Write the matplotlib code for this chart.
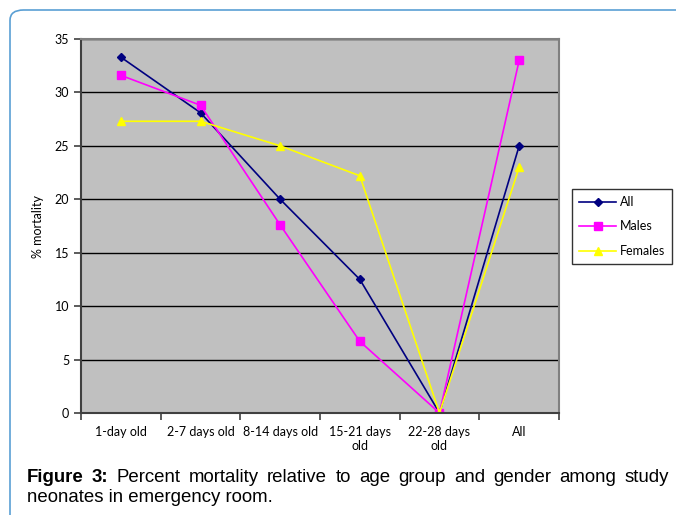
import matplotlib
matplotlib.use("Agg")
import matplotlib.pyplot as plt
from matplotlib.patches import FancyBboxPatch

categories = ["1-day old", "2-7 days old", "8-14 days old", "15-21 days\nold", "22-28 days\nold", "All"]
all_vals = [33.3, 28.1, 20.0, 12.5, 0.0, 25.0]
males = [31.6, 28.8, 17.6, 6.7, 0.0, 33.0]
females = [27.3, 27.3, 25.0, 22.2, 0.0, 23.0]

tick_font = "Lato"
tick_size = 9

fig = plt.figure(figsize=(6.76, 5.15), dpi=100)
W, H = 676, 515

# rounded frame around the figure
frame = FancyBboxPatch((10 / W, -0.2), 1.2, (H - 10) / H + 0.2,
                       boxstyle="round,pad=0,rounding_size=0.02",
                       transform=fig.transFigure, fill=False,
                       edgecolor="#5a9fd4", linewidth=1.2)
fig.patches.append(frame)

ax = fig.add_axes([81 / W, (H - 413) / H, (559 - 81) / W, (413 - 39) / H])
ax.set_facecolor("#c0c0c0")
x = range(len(categories))
ax.plot(x, all_vals, color="#000080", marker="D", markersize=4.5, linewidth=1.2, label="All")
ax.plot(x, males, color="#ff00ff", marker="s", markersize=6, linewidth=1.2, label="Males")
ax.plot(x, females, color="#ffff00", marker="^", markersize=6, linewidth=1.2, label="Females")

ax.set_xlim(-0.5, 5.5)
ax.set_ylim(0, 35)
ax.set_yticks(range(0, 36, 5))
ax.set_xticks([i + 0.5 for i in range(-1, 6)], minor=False)
ax.set_xticklabels([])
ax.set_xticks(list(x), minor=True)
ax.set_xticklabels(categories, minor=True, fontfamily=tick_font, fontsize=tick_size, linespacing=1.3)
ax.tick_params(axis="x", which="minor", length=0, pad=9)
ax.tick_params(axis="x", which="major", length=5, width=1.2, color="#404040", direction="out")
ax.tick_params(axis="y", length=5, width=1.2, color="#404040", labelsize=tick_size)
for lab in ax.get_yticklabels():
    lab.set_fontfamily(tick_font)
ax.grid(axis="y", color="black", linewidth=1)
ax.set_axisbelow(True)
for s in ["top", "right"]:
    ax.spines[s].set_color("#808080")
    ax.spines[s].set_linewidth(1.5)
for s in ["left", "bottom"]:
    ax.spines[s].set_color("#404040")
    ax.spines[s].set_linewidth(1.5)
ax.set_ylabel("% mortality", fontfamily=tick_font, fontsize=tick_size, labelpad=8)

leg = fig.legend(loc="upper left", bbox_to_anchor=(572 / W, 1 - 189 / H),
                 prop={"family": tick_font, "size": tick_size}, frameon=True,
                 fancybox=False, edgecolor="black", handlelength=3,
                 labelspacing=1.0, borderpad=0.55, handletextpad=0.3,
                 borderaxespad=0)
leg.get_frame().set_linewidth(1)

# caption, first line justified
fig.canvas.draw()
renderer = fig.canvas.get_renderer()
cap_font = "Liberation Sans"
cap_size = 13.4
words = [("Figure", "bold"), ("3:", "bold"), ("Percent", "normal"), ("mortality", "normal"),
         ("relative", "normal"), ("to", "normal"), ("age", "normal"), ("group", "normal"),
         ("and", "normal"), ("gender", "normal"), ("among", "normal"), ("study", "normal")]
x0, x1 = 27, 669
texts = []
for w, wt in words:
    t = fig.text(0, 1 - 478 / H, w, fontfamily=cap_font, fontsize=cap_size, fontweight=wt, va="center")
    texts.append(t)
widths = [t.get_window_extent(renderer).width for t in texts]
gap = (x1 - x0 - sum(widths)) / (len(words) - 1)
pos = x0
for t, wd in zip(texts, widths):
    t.set_x(pos / W)
    pos += wd + gap
fig.text(x0 / W, 1 - 498 / H, "neonates in emergency room.", fontfamily=cap_font,
         fontsize=cap_size, va="center")

fig.savefig("out.png", dpi=100)
